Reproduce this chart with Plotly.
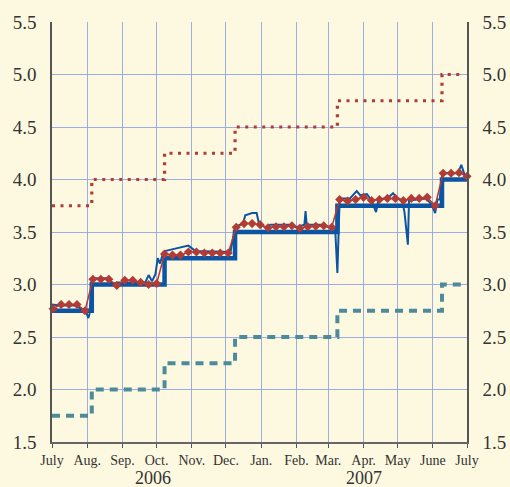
import plotly.graph_objects as go
import pandas as pd

# Step-change dates for the policy rate and corridor
step_dates = ["2006-07-01", "2006-08-05", "2006-10-08", "2006-12-09",
              "2007-03-09", "2007-06-09", "2007-07-01"]
band_dates = ["2006-07-01", "2006-08-05", "2006-10-08", "2006-12-09",
              "2007-03-09", "2007-06-09", "2007-06-29"]
policy_rate = [2.75, 3.00, 3.25, 3.50, 3.75, 4.00, 4.00]
upper_band = [3.75, 4.00, 4.25, 4.50, 4.75, 5.00, 5.00]
lower_band = [1.75, 2.00, 2.25, 2.50, 2.75, 3.00, 3.00]

# Overnight rate (thin line)
overnight_dates = [
    "2006-07-01", "2006-07-08", "2006-07-21", "2006-07-27", "2006-07-31",
    "2006-08-02", "2006-08-03", "2006-08-05", "2006-08-19", "2006-08-24",
    "2006-08-27", "2006-09-21", "2006-09-24", "2006-09-27", "2006-09-30",
    "2006-10-02", "2006-10-04", "2006-10-07", "2006-10-09", "2006-10-29",
    "2006-11-04", "2006-12-05", "2006-12-09", "2006-12-16", "2006-12-18",
    "2006-12-24", "2006-12-28", "2006-12-30", "2007-01-06", "2007-01-09",
    "2007-01-26", "2007-02-01", "2007-02-08", "2007-02-09", "2007-02-10",
    "2007-02-22", "2007-03-02", "2007-03-07", "2007-03-09", "2007-03-11",
    "2007-03-20", "2007-03-26", "2007-03-29", "2007-04-04", "2007-04-08",
    "2007-04-12", "2007-04-14", "2007-04-24", "2007-04-27", "2007-04-30",
    "2007-05-05", "2007-05-07", "2007-05-10", "2007-05-11", "2007-05-26",
    "2007-05-31", "2007-06-03", "2007-06-05", "2007-06-07", "2007-06-09",
    "2007-06-10", "2007-06-23", "2007-06-26", "2007-06-29", "2007-07-01",
]
overnight_rate = [
    2.81, 2.80, 2.80, 2.77, 2.74,
    2.68, 2.72, 3.06, 3.06, 3.00,
    3.02, 3.02, 3.09, 3.03, 3.10,
    3.25, 3.20, 3.31, 3.32, 3.37,
    3.32, 3.31, 3.55, 3.58, 3.66,
    3.68, 3.68, 3.58, 3.535, 3.57,
    3.57, 3.545, 3.57, 3.70, 3.57,
    3.57, 3.545, 3.545, 3.11, 3.82,
    3.82, 3.89, 3.85, 3.86, 3.80,
    3.69, 3.80, 3.84, 3.87, 3.83,
    3.80, 3.69, 3.38, 3.80, 3.82,
    3.76, 3.68, 3.81, 3.81, 4.03,
    4.06, 4.06, 4.14, 4.04, 4.01,
]

# Weekly tender rate (red diamonds), one per week from 2 July 2006
weekly_start = "2006-07-02"
weekly_rate = [
    2.77, 2.81, 2.81, 2.81, 2.75,
    3.05, 3.05, 3.05, 2.99, 3.04, 3.04, 3.02, 3.00, 3.01,
    3.29, 3.28, 3.28, 3.31, 3.31, 3.30, 3.30, 3.30, 3.30,
    3.545, 3.58, 3.58, 3.57, 3.54, 3.55, 3.55, 3.56, 3.535, 3.55, 3.555, 3.56, 3.545,
    3.81, 3.795, 3.81, 3.83, 3.80, 3.81, 3.82, 3.82, 3.80, 3.82, 3.82, 3.83, 3.75,
    4.06, 4.06, 4.065, 4.03,
]

month_ticks = ["2006-07-01", "2006-08-01", "2006-09-01", "2006-10-01",
               "2006-11-01", "2006-12-01", "2007-01-01", "2007-02-01",
               "2007-03-01", "2007-04-01", "2007-05-01", "2007-06-01",
               "2007-07-01"]
month_labels = ["July", "Aug.", "Sep.", "Oct.", "Nov.", "Dec.", "Jan.",
                "Feb.", "Mar.", "Apr.", "May", "June", "July"]
year_labels = ["2006", "2007"]
year_positions = ["2006-09-28", "2007-04-01"]
y_ticks = [1.5, 2.0, 2.5, 3.0, 3.5, 4.0, 4.5, 5.0, 5.5]

weekly_dates = pd.date_range(weekly_start, periods=len(weekly_rate), freq="7D")

BG = "#FDF9E0"
GRID = "#9DACE2"
RED = "#B23B36"
BLUE = "#0B55A5"
TEAL = "#4D8B9C"
FONT = "Liberation Serif"

fig = go.Figure()
fig.add_trace(go.Scatter(x=band_dates, y=upper_band, mode="lines",
                         line=dict(shape="hv", color=RED, width=3.2, dash="3px,5.5px"),
                         hoverinfo="skip"))
fig.add_trace(go.Scatter(x=band_dates, y=lower_band, mode="lines",
                         line=dict(shape="hv", color=TEAL, width=4, dash="8px,6px"),
                         hoverinfo="skip"))
fig.add_trace(go.Scatter(x=step_dates, y=policy_rate, mode="lines",
                         line=dict(shape="hv", color=BLUE, width=4.5)))
fig.add_trace(go.Scatter(x=overnight_dates, y=overnight_rate, mode="lines",
                         line=dict(color=BLUE, width=2)))
fig.add_trace(go.Scatter(x=weekly_dates, y=weekly_rate, mode="lines+markers",
                         line=dict(color=RED, width=1.5),
                         marker=dict(symbol="diamond", size=7, color=RED),
                         cliponaxis=False))
# invisible trace for right axis
fig.add_trace(go.Scatter(x=[month_ticks[0]], y=[y_ticks[0]], yaxis="y2",
                         mode="markers", marker=dict(opacity=0), hoverinfo="skip"))

fig.update_layout(
    width=510, height=487,
    margin=dict(l=52, r=43, t=22, b=45, autoexpand=False),
    paper_bgcolor=BG, plot_bgcolor=BG,
    showlegend=False,
    font=dict(family=FONT, color="#333333", size=14),
    xaxis=dict(type="date", range=["2006-07-01", "2007-07-01"],
               tickvals=month_ticks, ticktext=month_labels, automargin=False,
               tickfont=dict(size=14), showgrid=True, gridcolor=GRID, gridwidth=1,
               ticks="outside", ticklen=4, tickcolor="#555555",
               showline=True, linecolor="#666666", linewidth=1.5, zeroline=False),
    yaxis=dict(range=[1.5, 5.5], tickvals=y_ticks, automargin=False,
               ticktext=[f"{v:.1f}" for v in y_ticks],
               tickfont=dict(size=19), showgrid=True, gridcolor=GRID, gridwidth=1,
               ticks="", ticklabelstandoff=10,
               showline=True, linecolor="#555555", linewidth=1.5, zeroline=False),
    yaxis2=dict(range=[1.5, 5.5], tickvals=y_ticks, automargin=False,
                ticktext=[f"{v:.1f}" for v in y_ticks],
                tickfont=dict(size=19), overlaying="y", side="right",
                showgrid=False, ticks="", ticklabelstandoff=10,
                showline=True, linecolor="#555555", linewidth=1.5, zeroline=False),
)

for pos, lab in zip(year_positions, year_labels):
    fig.add_annotation(x=pos, y=0, xref="x", yref="paper", yanchor="middle",
                       yshift=-36, text=lab, showarrow=False, font=dict(size=18))

fig.write_html(
    "out.html",
    config={"displayModeBar": False},
    post_script="document.body.style.margin='0';"
                "document.body.style.background='#FDF9E0';",
)
